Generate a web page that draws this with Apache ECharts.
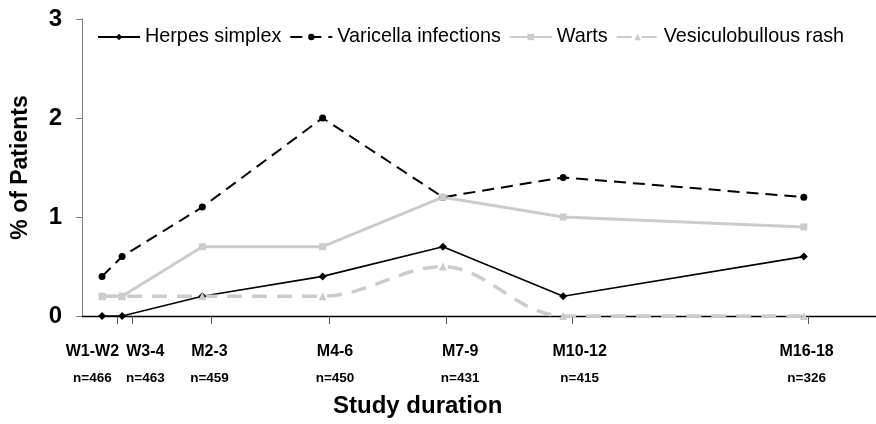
<!DOCTYPE html>
<html>
<head>
<meta charset="utf-8">
<script src="https://cdn.jsdelivr.net/npm/echarts@6/dist/echarts.min.js"></script>
<style>html,body{margin:0;padding:0;background:#fff}#c{width:876px;height:424px}</style>
</head>
<body>
<div id="c"></div>
<script>
// Study periods (month at the end of each period) and their labels
const periodMonths = [0.5, 1, 3, 6, 9, 12, 18];
const periodLabels = ['W1-W2', 'W3-4', 'M2-3', 'M4-6', 'M7-9', 'M10-12', 'M16-18'];
const nLabels = ['n=466', 'n=463', 'n=459', 'n=450', 'n=431', 'n=415', 'n=326'];
const yTicks = [0, 1, 2, 3];

// % of patients
const herpesSimplex = [0, 0, 0.2, 0.4, 0.7, 0.2, 0.6];
const varicella = [0.4, 0.6, 1.1, 2.0, 1.2, 1.4, 1.2];
const warts = [0.2, 0.2, 0.7, 0.7, 1.2, 1.0, 0.9];
const vesiculobullous = [0.2, 0.2, 0.2, 0.2, 0.5, 0, 0];

const FONT = 'Liberation Sans, Arial, Helvetica, sans-serif';
const pair = arr => arr.map((v, i) => [periodMonths[i], v]);

// layout-only positions on the month axis
const labelPos = [0.26, 1.58, 3.18, 6.31, 9.43, 12.41, 18.07];
const tickPos = [0.87, 1.26, 3.23, 6.16, 9.09, 12.23, 18.1];

const chart = echarts.init(document.getElementById('c'), null, {renderer: 'canvas'});
chart.setOption({
  animation: false,
  backgroundColor: '#fff',
  textStyle: {fontFamily: FONT},
  grid: {left: 82, right: 0, top: 19, bottom: 108, containLabel: false, outerBoundsMode: 'none'},
  legend: {
    left: 92, top: 22, itemWidth: 42, itemHeight: 8, itemGap: 8,
    textStyle: {fontSize: 19.8, color: '#000', fontFamily: FONT},
    data: ['Herpes simplex', 'Varicella infections', 'Warts', 'Vesiculobullous rash']
  },
  xAxis: {
    type: 'value', min: 0, max: 19.8,
    splitLine: {show: false},
    axisLine: {lineStyle: {color: '#000', width: 1.4}},
    axisTick: {show: true, length: 8, lineStyle: {color: '#555'}, customValues: tickPos},
    axisLabel: {
      customValues: labelPos, margin: 23,
      formatter: (v) => {
        let i = 0, best = 1e9;
        labelPos.forEach((p, k) => { if (Math.abs(p - v) < best) { best = Math.abs(p - v); i = k; } });
        return '{a|' + periodLabels[i] + '}\n{b|' + nLabels[i] + '}';
      },
      rich: {
        a: {fontSize: 16, fontWeight: 'bold', color: '#000', lineHeight: 26, fontFamily: FONT},
        b: {fontSize: 13.5, fontWeight: 'bold', color: '#000', lineHeight: 26, fontFamily: FONT}
      }
    }
  },
  yAxis: {
    type: 'value', min: yTicks[0], max: yTicks[yTicks.length - 1], interval: 1,
    name: '% of Patients', nameLocation: 'middle', nameGap: 50, nameRotate: 90,
    nameTextStyle: {fontSize: 23, fontWeight: 'bold', color: '#000', fontFamily: FONT},
    splitLine: {show: false},
    axisLine: {show: true, lineStyle: {color: '#808080', width: 1}},
    axisTick: {show: true, length: 6, lineStyle: {color: '#808080'}},
    axisLabel: {fontSize: 24, fontWeight: 'bold', color: '#000', margin: 20, fontFamily: FONT}
  },
  graphic: [{
    type: 'text', left: 333, top: 394,
    style: {text: 'Study duration', font: 'bold 24px ' + FONT, fill: '#000'}
  }],
  series: [
    {name: 'Herpes simplex', type: 'line', data: pair(herpesSimplex),
     symbol: 'diamond', symbolSize: 8,
     lineStyle: {color: '#000', width: 1.6}, itemStyle: {color: '#000'}},
    {name: 'Varicella infections', type: 'line', data: pair(varicella),
     symbol: 'circle', symbolSize: 7,
     lineStyle: {color: '#000', width: 2, type: [12, 7]}, itemStyle: {color: '#000'}},
    {name: 'Warts', type: 'line', data: pair(warts),
     symbol: 'rect', symbolSize: 7,
     lineStyle: {color: '#cccccc', width: 3}, itemStyle: {color: '#cccccc'}},
    {name: 'Vesiculobullous rash', type: 'line', data: pair(vesiculobullous),
     symbol: 'triangle', symbolSize: 8, smooth: 0.35,
     lineStyle: {color: '#cccccc', width: 3.5, type: [15, 10]}, itemStyle: {color: '#cccccc'}}
  ]
});
</script>
</body>
</html>
